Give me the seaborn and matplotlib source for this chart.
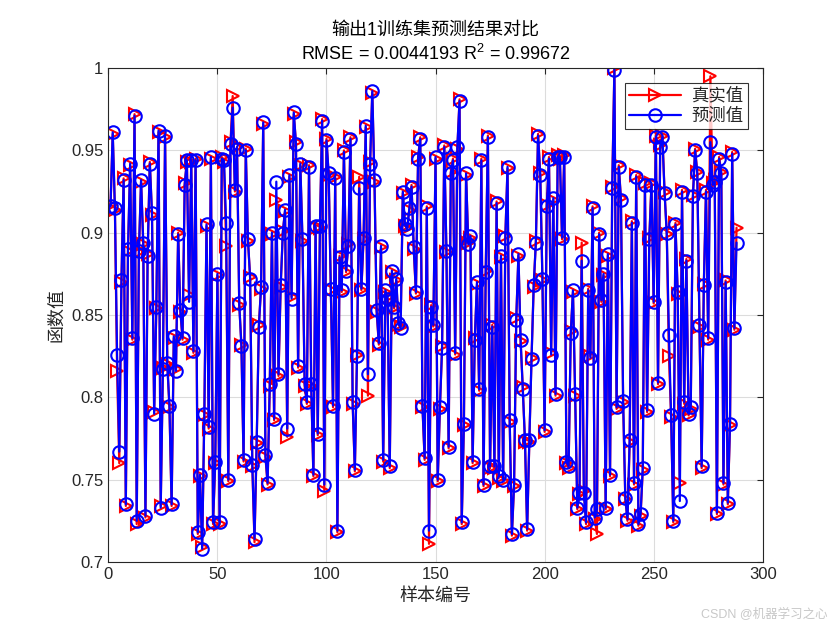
import numpy as np
import pandas as pd
import matplotlib
matplotlib.use("Agg")
import matplotlib.pyplot as plt
import seaborn as sns

# predicted values (blue) in 6 strips
pred_1 = [0.916, 0.961, 0.915, 0.826, 0.767, 0.871, 0.932, 0.735, 0.890, 0.942, 0.836, 0.971, 0.725, 0.889, 0.932,
          0.894, 0.728, 0.886, 0.942, 0.912, 0.790, 0.855, 0.962, 0.733, 0.817, 0.959, 0.821, 0.795, 0.735, 0.837,
          0.816, 0.899, 0.853, 0.836, 0.929, 0.944, 0.858, 0.944, 0.828, 0.944, 0.718, 0.753, 0.708]
pred_2 = [0.790, 0.905, 0.782, 0.946, 0.724, 0.761, 0.875, 0.724, 0.945, 0.944, 0.906, 0.750, 0.954, 0.976, 0.926,
          0.951, 0.857, 0.831, 0.762, 0.950, 0.896, 0.872, 0.759, 0.714, 0.773, 0.843, 0.867, 0.967, 0.765, 0.748,
          0.808, 0.900, 0.787, 0.931, 0.814, 0.868, 0.900, 0.914, 0.781, 0.935, 0.860, 0.973, 0.954, 0.819, 0.942,
          0.896, 0.808, 0.797, 0.940]
pred_3 = [0.808, 0.753, 0.904, 0.778, 0.904, 0.968, 0.747, 0.956, 0.936, 0.866, 0.795, 0.933, 0.719, 0.885, 0.865,
          0.949, 0.877, 0.892, 0.957, 0.797, 0.756, 0.825, 0.927, 0.866, 0.897, 0.965, 0.814, 0.942, 0.986, 0.932,
          0.853, 0.833, 0.892, 0.762, 0.865, 0.860, 0.758, 0.877, 0.855, 0.872, 0.845, 0.842, 0.925, 0.905, 0.902,
          0.915, 0.928, 0.891, 0.864, 0.945, 0.957, 0.795]
pred_4 = [0.763, 0.915, 0.719, 0.855, 0.844, 0.946, 0.750, 0.794, 0.830, 0.952, 0.889, 0.770, 0.936, 0.944, 0.827,
          0.952, 0.980, 0.724, 0.784, 0.936, 0.893, 0.898, 0.761, 0.835, 0.870, 0.805, 0.944, 0.747, 0.876, 0.958,
          0.758, 0.843, 0.758, 0.918, 0.752, 0.886, 0.750, 0.897, 0.940, 0.786, 0.717, 0.747, 0.847, 0.887, 0.835,
          0.805, 0.774, 0.720, 0.774, 0.823, 0.868, 0.894]
pred_5 = [0.959, 0.935, 0.872, 0.780, 0.916, 0.945, 0.826, 0.921, 0.802, 0.946, 0.946, 0.897, 0.946, 0.761, 0.758,
          0.839, 0.865, 0.802, 0.733, 0.742, 0.883, 0.742, 0.724, 0.865, 0.824, 0.915, 0.727, 0.732, 0.899, 0.859,
          0.875, 0.733, 0.887, 0.753, 0.927, 0.999, 0.794, 0.940, 0.920, 0.798, 0.739, 0.726, 0.774, 0.906, 0.748,
          0.934, 0.723, 0.729, 0.757, 0.929, 0.792, 0.896]
pred_6 = [0.929, 0.858, 0.958, 0.809, 0.952, 0.958, 0.924, 0.900, 0.838, 0.789, 0.725, 0.905, 0.864, 0.737, 0.925,
          0.797, 0.883, 0.790, 0.794, 0.922, 0.950, 0.936, 0.844, 0.758, 0.868, 0.925, 0.836, 0.955, 0.929, 0.931,
          0.730, 0.945, 0.936, 0.748, 0.870, 0.736, 0.784, 0.948, 0.842, 0.894]

# true values (red)
true_1 = [0.917, 0.960, 0.914, 0.816, 0.760, 0.870, 0.933, 0.734, 0.889, 0.941, 0.835, 0.972, 0.723, 0.888, 0.931,
          0.893, 0.727, 0.887, 0.943, 0.911, 0.791, 0.854, 0.961, 0.734, 0.818, 0.958, 0.820, 0.794, 0.734, 0.836,
          0.817, 0.900, 0.852, 0.835, 0.930, 0.943, 0.862, 0.943, 0.827, 0.945, 0.717, 0.752, 0.709]
true_2 = [0.789, 0.904, 0.781, 0.945, 0.723, 0.760, 0.874, 0.723, 0.946, 0.943, 0.892, 0.749, 0.955, 0.983, 0.925,
          0.952, 0.856, 0.832, 0.761, 0.951, 0.895, 0.873, 0.758, 0.712, 0.772, 0.844, 0.866, 0.966, 0.764, 0.747,
          0.807, 0.899, 0.786, 0.920, 0.813, 0.867, 0.901, 0.913, 0.776, 0.934, 0.861, 0.972, 0.955, 0.818, 0.941,
          0.895, 0.807, 0.796, 0.941]
true_3 = [0.807, 0.752, 0.903, 0.777, 0.903, 0.969, 0.743, 0.957, 0.935, 0.865, 0.794, 0.934, 0.718, 0.886, 0.864,
          0.950, 0.876, 0.893, 0.958, 0.796, 0.755, 0.826, 0.934, 0.865, 0.896, 0.964, 0.801, 0.943, 0.985, 0.931,
          0.852, 0.832, 0.891, 0.761, 0.864, 0.861, 0.757, 0.876, 0.854, 0.871, 0.844, 0.843, 0.924, 0.904, 0.903,
          0.914, 0.929, 0.890, 0.863, 0.946, 0.958, 0.794]
true_4 = [0.762, 0.916, 0.711, 0.856, 0.843, 0.945, 0.749, 0.793, 0.831, 0.953, 0.888, 0.769, 0.937, 0.945, 0.826,
          0.951, 0.981, 0.723, 0.783, 0.935, 0.894, 0.897, 0.760, 0.836, 0.869, 0.804, 0.945, 0.746, 0.877, 0.959,
          0.757, 0.844, 0.757, 0.919, 0.751, 0.885, 0.749, 0.898, 0.939, 0.785, 0.716, 0.746, 0.848, 0.886, 0.834,
          0.806, 0.773, 0.719, 0.773, 0.824, 0.867, 0.895]
true_5 = [0.960, 0.936, 0.871, 0.779, 0.917, 0.946, 0.827, 0.920, 0.801, 0.947, 0.945, 0.896, 0.947, 0.760, 0.757,
          0.840, 0.864, 0.801, 0.732, 0.741, 0.894, 0.743, 0.723, 0.866, 0.825, 0.916, 0.726, 0.717, 0.900, 0.858,
          0.874, 0.732, 0.886, 0.752, 0.928, 1.000, 0.793, 0.941, 0.921, 0.797, 0.738, 0.725, 0.773, 0.907, 0.747,
          0.935, 0.722, 0.728, 0.756, 0.930, 0.791, 0.897]
true_6 = [0.930, 0.857, 0.959, 0.808, 0.953, 0.959, 0.925, 0.899, 0.825, 0.788, 0.724, 0.906, 0.863, 0.748, 0.926,
          0.796, 0.884, 0.789, 0.793, 0.923, 0.951, 0.937, 0.843, 0.757, 0.869, 0.926, 0.835, 0.995, 0.930, 0.932,
          0.729, 0.946, 0.937, 0.747, 0.871, 0.735, 0.783, 0.949, 0.841, 0.903]

title_1 = "输出1训练集预测结果对比"
title_2 = "RMSE = 0.0044193 R$^2$ = 0.99672"

pred = pred_1 + pred_2 + pred_3 + pred_4 + pred_5 + pred_6
true = true_1 + true_2 + true_3 + true_4 + true_5 + true_6
idx = np.arange(1, len(pred) + 1)
df = pd.DataFrame({"idx": idx, "true": true, "pred": pred})

sns.set_style("white")
plt.rcParams['font.family'] = ['Liberation Sans', 'Noto Sans CJK SC', 'DejaVu Sans']
plt.rcParams['mathtext.fontset'] = 'custom'
plt.rcParams['mathtext.rm'] = 'Liberation Sans'

fig = plt.figure(figsize=(8.4, 6.3), dpi=100)
ax = fig.add_axes([0.129, 0.108, 0.779, 0.784])

sns.lineplot(data=df, x="idx", y="true", ax=ax, color="red", linewidth=1.6, marker=">",
             markersize=9, markerfacecolor="none", markeredgecolor="red", markeredgewidth=1.5,
             estimator=None, sort=False, label="真实值")
sns.lineplot(data=df, x="idx", y="pred", ax=ax, color="blue", linewidth=1.6, marker="o",
             markersize=9, markerfacecolor="none", markeredgecolor="blue", markeredgewidth=1.5,
             estimator=None, sort=False, label="预测值")

ax.set_xlim(0, 300)
ax.set_ylim(0.7, 1.0)
ax.set_xticks([0, 50, 100, 150, 200, 250, 300])
ax.set_yticks([0.7, 0.75, 0.8, 0.85, 0.9, 0.95, 1.0])
ax.set_yticklabels(["0.7", "0.75", "0.8", "0.85", "0.9", "0.95", "1"])
ax.grid(True, color="#dcdcdc", linewidth=0.8)
ax.tick_params(direction="in", length=4, labelsize=12, top=True, right=True, colors="#262626")
for s in ax.spines.values():
    s.set_color("#262626")
    s.set_linewidth(0.8)

ax.set_xlabel("样本编号", fontsize=13, color="#262626")
ax.set_ylabel("函数值", fontsize=13, color="#262626")
ax.set_title(title_1 + "\n" + title_2, fontsize=13, color="black", linespacing=1.3, pad=6)

leg = ax.legend(loc="upper right", fontsize=12.5, frameon=True, fancybox=False, borderaxespad=0.85,
                handlelength=3.0, borderpad=0.25, labelspacing=0.25, handletextpad=0.6)
leg.get_frame().set_edgecolor("black")
leg.get_frame().set_linewidth(0.8)

fig.text(0.985, 0.015, "CSDN @机器学习之心", ha="right", va="bottom", fontsize=9, color="#c8c8c8")

fig.savefig("out.png", dpi=100)
